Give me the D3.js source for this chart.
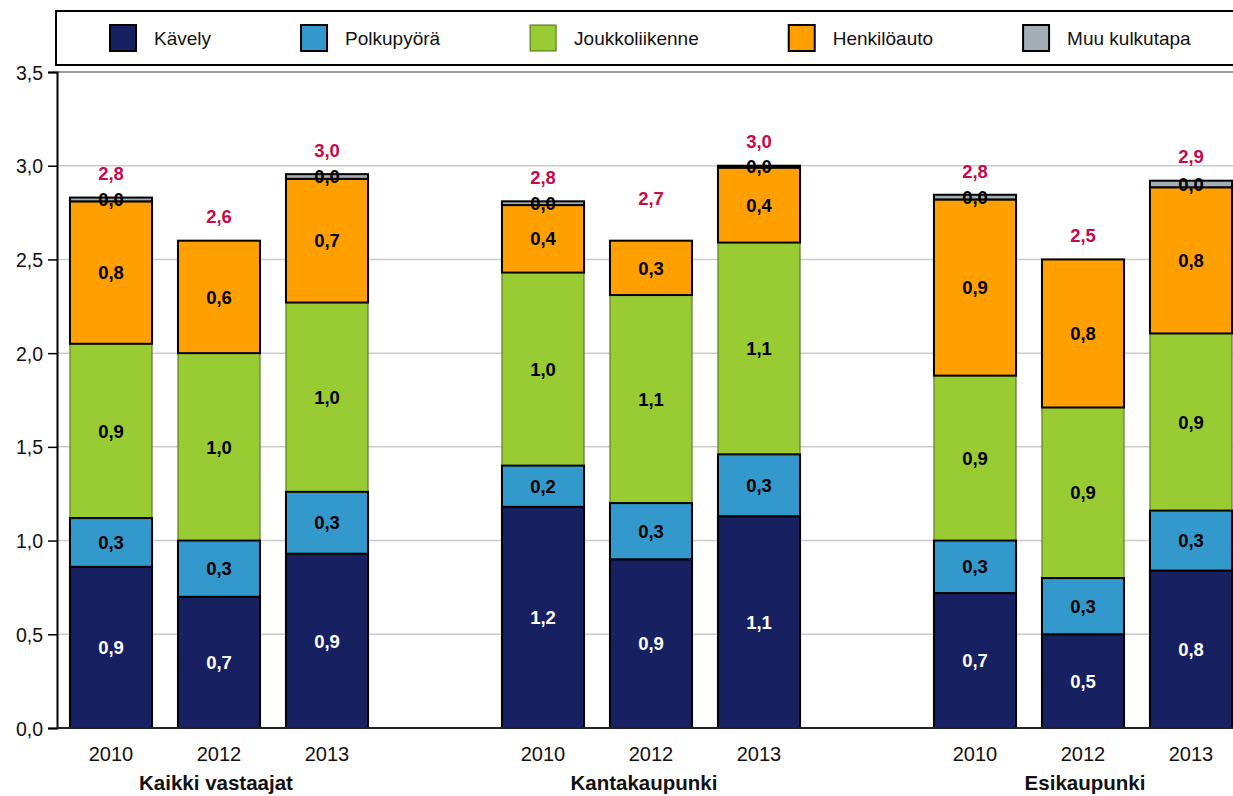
<!DOCTYPE html>
<html>
<head>
<meta charset="utf-8">
<script src="https://cdn.jsdelivr.net/npm/d3@7"></script>
<style>
    body { margin: 0; background: #fff; }
    svg { display: block; font-family: "Liberation Sans", Arial, sans-serif; }
</style>
</head>
<body>
<div id="chart"></div>
<script>
// Chart data
const groups = ["Kaikki vastaajat", "Kantakaupunki", "Esikaupunki"];
const years = ["2010", "2012", "2013"];
const series = ["Kävely", "Polkupyörä", "Joukkoliikenne", "Henkilöauto", "Muu kulkutapa"];

// one value per bar: group by group, year by year
const kavely         = [0.86, 0.70, 0.93, 1.18, 0.90, 1.13, 0.72, 0.50, 0.84];
const polkupyora     = [0.26, 0.30, 0.33, 0.22, 0.30, 0.33, 0.28, 0.30, 0.32];
const joukkoliikenne = [0.93, 1.00, 1.01, 1.03, 1.11, 1.13, 0.88, 0.91, 0.945];
const henkiloauto    = [0.76, 0.60, 0.66, 0.36, 0.29, 0.40, 0.94, 0.79, 0.78];
const muu            = [0.02, null, 0.025, 0.02, null, 0.01, 0.025, null, 0.035];
const totals         = [2.83, 2.60, 2.955, 2.81, 2.70, 3.00, 2.84, 2.50, 2.92];

const yTicks = [0, 0.5, 1.0, 1.5, 2.0, 2.5, 3.0, 3.5];

document.addEventListener('DOMContentLoaded', function() {
    const width = 1233;
    const height = 796;
    const colors = ["#172161", "#3399cc", "#99cc33", "#ffa000", "#a4aeb6"];
    const values = [kavely, polkupyora, joukkoliikenne, henkiloauto, muu];

    const fmt = d3.formatLocale({decimal: ",", thousands: " ", grouping: [3], currency: ["", "€"]}).format(".1f");

    // build table for d3.stack
    const rows = [];
    groups.forEach((g, gi) => {
        years.forEach((y, yi) => {
            const i = gi * years.length + yi;
            const row = {group: g, year: y, idx: i};
            series.forEach((s, si) => { row[s] = values[si][i] || 0; });
            rows.push(row);
        });
    });
    const stacked = d3.stack().keys(series)(rows);

    const svg = d3.select("#chart")
        .append("svg")
        .attr("width", width)
        .attr("height", height);

    const left = 57;
    const y = d3.scaleLinear().domain([0, 3.5]).range([728, 72]);

    // each group takes 4 slots (3 bars + gap), slot = 108px
    const x0 = d3.scaleBand().domain(groups).range([left, left + 3 * 432]);
    const x1 = d3.scaleBand().domain(years).range([0, 324]).paddingInner(0.24).paddingOuter(0.12);
    const barX = d => x0(d.data.group) + x1(d.data.year);

    // grid lines
    svg.append("g")
        .selectAll("line")
        .data(yTicks.filter(t => t > 0))
        .enter().append("line")
        .attr("x1", left)
        .attr("x2", width)
        .attr("y1", d => y(d))
        .attr("y2", d => y(d))
        .attr("stroke", d => d === 3.5 ? "#9a9a9a" : "#cccccc")
        .attr("stroke-width", d => d === 3.5 ? 2 : 1.5);

    // y axis
    const yAxis = svg.append("g")
        .attr("transform", `translate(${left},0)`)
        .call(d3.axisLeft(y).tickValues(yTicks).tickFormat(fmt).tickSize(9).tickPadding(5));
    yAxis.select(".domain").attr("stroke", "#000").attr("stroke-width", 2);
    yAxis.selectAll(".tick line").attr("stroke", "#000").attr("stroke-width", 1.5);
    yAxis.selectAll(".tick text")
        .attr("font-size", 19.5)
        .attr("font-family", "Liberation Sans, Arial, sans-serif")
        .attr("fill", "#111")
        .attr("dy", "0.36em");

    // bars - green layer first so the black borders of its neighbours sit on top
    const drawOrder = [2, 0, 1, 3, 4];
    drawOrder.forEach(si => {
        const layer = stacked[si];
        svg.append("g")
            .selectAll("rect")
            .data(layer.filter(d => values[si][d.data.idx] != null))
            .enter().append("rect")
            .attr("x", barX)
            .attr("width", x1.bandwidth())
            .attr("y", d => y(d[1]))
            .attr("height", d => y(d[0]) - y(d[1]))
            .attr("fill", colors[si])
            .attr("stroke", si === 2 ? "#4d6b14" : "#000")
            .attr("stroke-width", si === 2 ? 1 : 2);
    });

    // segment labels
    stacked.forEach((layer, si) => {
        svg.append("g")
            .selectAll("text")
            .data(layer.filter(d => values[si][d.data.idx] != null))
            .enter().append("text")
            .attr("x", d => barX(d) + x1.bandwidth() / 2)
            .attr("y", d => (y(d[0]) + y(d[1])) / 2)
            .attr("dy", "0.36em")
            .attr("text-anchor", "middle")
            .attr("font-size", 18.5)
            .attr("font-weight", "bold")
            .attr("fill", si === 0 ? "#fff" : "#000")
            .text(d => fmt(values[si][d.data.idx]));
    });

    // total labels
    svg.append("g")
        .selectAll("text")
        .data(rows)
        .enter().append("text")
        .attr("x", d => x0(d.group) + x1(d.year) + x1.bandwidth() / 2)
        .attr("y", d => y(totals[d.idx]) - 24)
        .attr("dy", "0.36em")
        .attr("text-anchor", "middle")
        .attr("font-size", 18.5)
        .attr("font-weight", "bold")
        .attr("fill", "#c8084a")
        .text(d => fmt(totals[d.idx]));

    // x axis line
    svg.append("line")
        .attr("x1", left)
        .attr("x2", width)
        .attr("y1", y(0))
        .attr("y2", y(0))
        .attr("stroke", "#222")
        .attr("stroke-width", 2);

    // year labels and group labels
    rows.forEach(d => {
        svg.append("text")
            .attr("x", x0(d.group) + x1(d.year) + x1.bandwidth() / 2)
            .attr("y", 761)
            .attr("text-anchor", "middle")
            .attr("font-size", 20)
            .attr("fill", "#111")
            .text(d.year);
    });
    const groupShift = [-3, -7, 2];  // labels sit a little off the middle bar
    svg.append("g")
        .selectAll("text")
        .data(groups)
        .enter().append("text")
        .attr("x", (d, i) => x0(d) + x1(years[1]) + x1.bandwidth() / 2 + groupShift[i])
        .attr("y", 790)
        .attr("text-anchor", "middle")
        .attr("font-size", 20.5)
        .attr("font-weight", "bold")
        .attr("fill", "#111")
        .text(d => d);

    // legend box
    svg.append("rect")
        .attr("x", 56)
        .attr("y", 11)
        .attr("width", width)
        .attr("height", 54)
        .attr("fill", "#fff")
        .attr("stroke", "#000")
        .attr("stroke-width", 2);

    let lx = 110;
    series.forEach((s, si) => {
        svg.append("rect")
            .attr("x", lx)
            .attr("y", 25)
            .attr("width", 26)
            .attr("height", 26)
            .attr("fill", colors[si])
            .attr("stroke", si === 2 ? "#4d6b14" : "#000")
            .attr("stroke-width", si === 2 ? 1 : 2);
        const t = svg.append("text")
            .attr("x", lx + 44)
            .attr("y", 38)
            .attr("dy", "0.36em")
            .attr("font-size", 19)
            .attr("fill", "#111")
            .text(s);
        lx = lx + 44 + t.node().getComputedTextLength() + 90;
    });
});
</script>
</body>
</html>
